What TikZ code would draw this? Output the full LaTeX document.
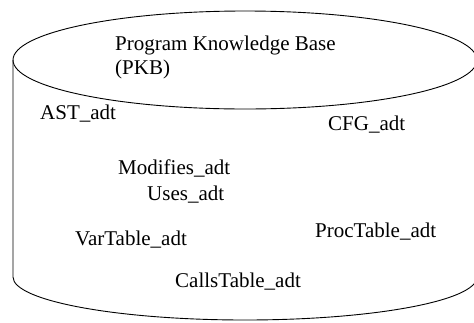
\documentclass[tikz,border=0pt]{standalone}
\usepackage{fontspec}
\setmainfont{Liberation Serif}
\begin{document}
\begin{tikzpicture}[x=1pt,y=-1pt,
  lbl/.style={anchor=west,inner sep=0pt,font=\fontsize{21}{24}\selectfont,text height=0.7em,text depth=0.2em},
  edge/.style={draw=black,line width=0.9pt}]
\useasboundingbox (0,0) rectangle (474,322);
\begin{scope}
\clip (0,0) rectangle (474,322);
\draw[edge] (245,60) ellipse [x radius=232, y radius=49];
\draw[edge] (13,60) -- (13,277) arc[start angle=180, end angle=0, x radius=232, y radius=43] -- (477,60);
\end{scope}
\node[lbl] (pkb) at (115,48) {Program Knowledge Base};
\node[lbl] (pkb2) at (115,72) {(PKB)};
\node[lbl] (ast) at (40,117) {AST\_adt};
\node[lbl] (cfg) at (328,128) {CFG\_adt};
\node[lbl] (mod) at (118,172) {Modifies\_adt};
\node[lbl] (uses) at (147,198) {Uses\_adt};
\node[lbl] (var) at (75,243) {VarTable\_adt};
\node[lbl] (proc) at (315,235) {ProcTable\_adt};
\node[lbl] (calls) at (175,285) {CallsTable\_adt};
\end{tikzpicture}
\end{document}
